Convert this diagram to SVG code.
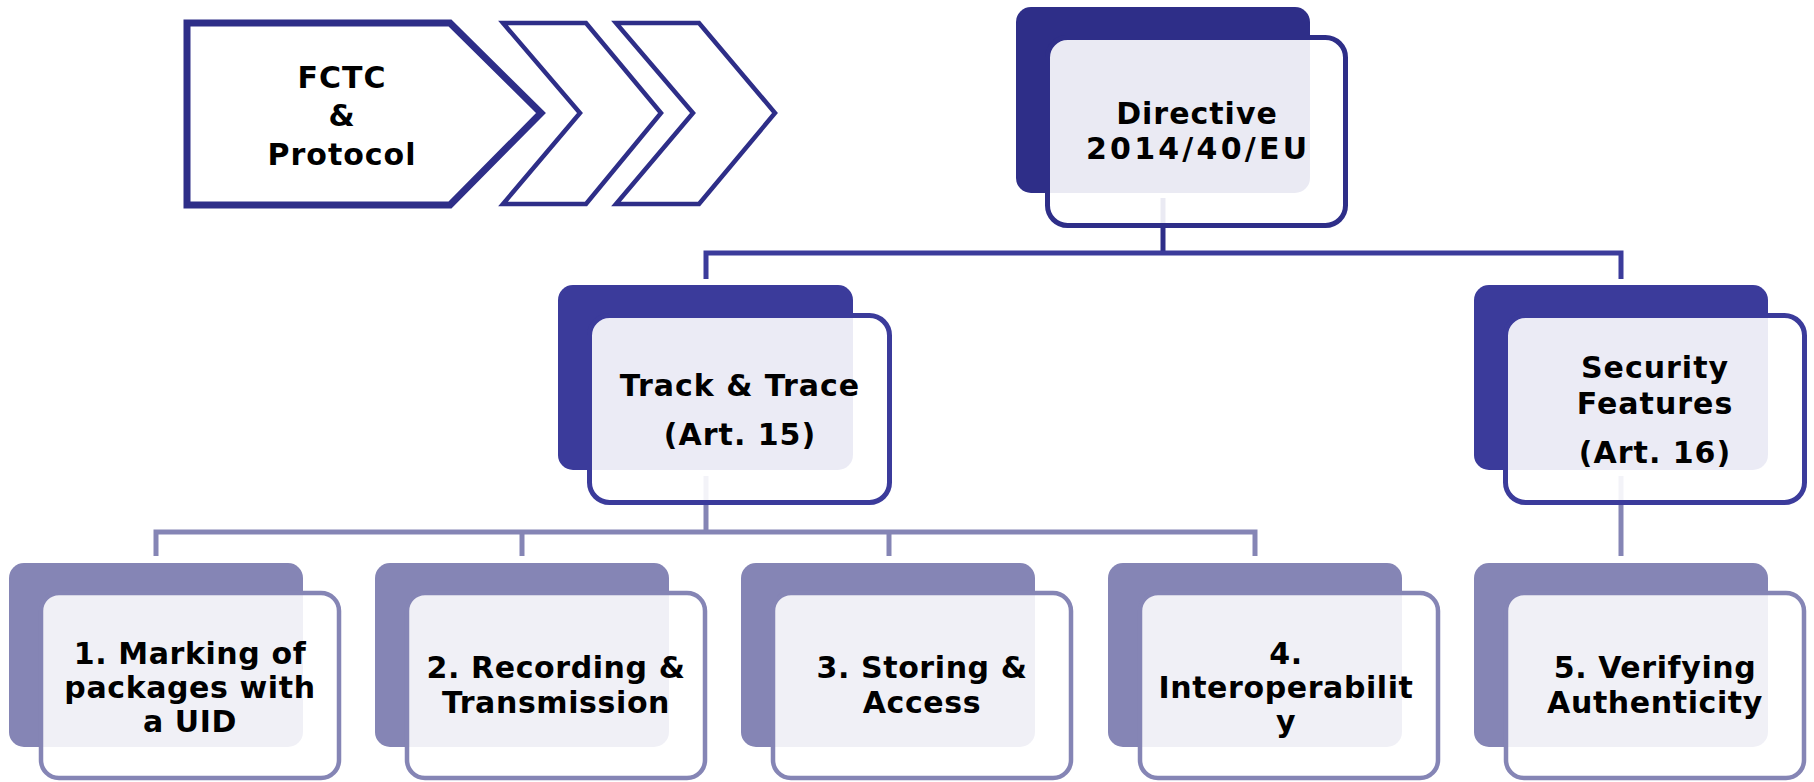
<svg xmlns="http://www.w3.org/2000/svg" width="1814" height="782" viewBox="0 0 1814 782">
<style>
.t{font-family:"DejaVu Sans","Liberation Sans",sans-serif;font-weight:bold;font-size:30px;fill:#000;text-anchor:middle;letter-spacing:1px}
.tb{font-family:"DejaVu Sans","Liberation Sans",sans-serif;font-weight:bold;font-size:30px;fill:#000;text-anchor:middle;letter-spacing:0.6px}
.chev{fill:#fff;stroke:#2e2e88;stroke-linejoin:miter}
.d1{fill:#2e2e88}
.d2{fill:#3b3b9b}
.d3{fill:#8585b5}
.f1{fill:#fff;fill-opacity:.9;stroke:#2e2e88;stroke-width:5}
.f2{fill:#fff;fill-opacity:.9;stroke:#3b3b9b;stroke-width:5}
.f3{fill:#fff;fill-opacity:.88;stroke:#8585b5;stroke-width:4.5}
.c1{fill:none;stroke:#2e2e88;stroke-width:5}
.c2{fill:none;stroke:#3b3b9b;stroke-width:5}
.c3{fill:none;stroke:#8585b5;stroke-width:5}
</style>
<rect width="1814" height="782" fill="#fff"/>
<g id="connectors">
<path class="c1" d="M1163 198V253"/>
<path class="c2" d="M706 279V253H1621V279"/>
<path class="c3" d="M706 476V532"/>
<path class="c3" d="M156 556V532H1255V556M522 532V556M889 532V556"/>
<path class="c3" d="M1621 476V556"/>
</g>
<g id="fctc">
<path class="chev" stroke-width="7" d="M187 23H450L541 113L450 205H187Z"/>
<text class="t" x="342" y="88">FCTC</text>
<text class="t" x="342" y="126">&amp;</text>
<text class="t" x="342" y="165">Protocol</text>
</g>
<g id="chevron2"><path class="chev" stroke-width="4.5" d="M503 23H586L661 113L586 204H503L580 113Z"/></g>
<g id="chevron3"><path class="chev" stroke-width="4.5" d="M616 23H699L775 113L699 204H616L693 113Z"/></g>
<g id="directive">
<rect class="d1" x="1016" y="7" width="294" height="186" rx="15"/>
<rect class="f1" x="1047.5" y="37.5" width="298" height="188" rx="20"/>
<text class="t" x="1197" y="124">Directive</text>
<text class="t" x="1197" y="159" textLength="222" lengthAdjust="spacing">2014/40/EU</text>
</g>
<g id="tracktrace">
<rect class="d2" x="558" y="285" width="295" height="185" rx="15"/>
<rect class="f2" x="589.5" y="315.5" width="300" height="187" rx="20"/>
<text class="t" x="740" y="396">Track &amp; Trace</text>
<text class="t" x="740" y="445">(Art. 15)</text>
</g>
<g id="security">
<rect class="d2" x="1474" y="285" width="294" height="185" rx="15"/>
<rect class="f2" x="1505.5" y="315.5" width="299" height="187" rx="20"/>
<text class="t" x="1655" y="378">Security</text>
<text class="t" x="1655" y="414">Features</text>
<text class="t" x="1655" y="463">(Art. 16)</text>
</g>
<g id="marking">
<rect class="d3" x="9" y="563" width="294" height="184" rx="15"/>
<rect class="f3" x="41" y="593" width="298" height="185" rx="18"/>
<text class="tb" x="190" y="664">1. Marking of</text>
<text class="tb" x="190" y="698">packages with</text>
<text class="tb" x="190" y="732">a UID</text>
</g>
<g id="recording">
<rect class="d3" x="375" y="563" width="294" height="184" rx="15"/>
<rect class="f3" x="407" y="593" width="298" height="185" rx="18"/>
<text class="tb" x="556" y="678">2. Recording &amp;</text>
<text class="tb" x="556" y="713">Transmission</text>
</g>
<g id="storing">
<rect class="d3" x="741" y="563" width="294" height="184" rx="15"/>
<rect class="f3" x="773" y="593" width="298" height="185" rx="18"/>
<text class="tb" x="922" y="678">3. Storing &amp;</text>
<text class="tb" x="922" y="713">Access</text>
</g>
<g id="interop">
<rect class="d3" x="1108" y="563" width="294" height="184" rx="15"/>
<rect class="f3" x="1140" y="593" width="298" height="185" rx="18"/>
<text class="tb" x="1286" y="664">4.</text>
<text class="tb" x="1286" y="698">Interoperabilit</text>
<text class="tb" x="1286" y="732">y</text>
</g>
<g id="verifying">
<rect class="d3" x="1474" y="563" width="294" height="184" rx="15"/>
<rect class="f3" x="1506" y="593" width="298" height="185" rx="18"/>
<text class="tb" x="1655" y="678">5. Verifying</text>
<text class="tb" x="1655" y="713">Authenticity</text>
</g>
</svg>
